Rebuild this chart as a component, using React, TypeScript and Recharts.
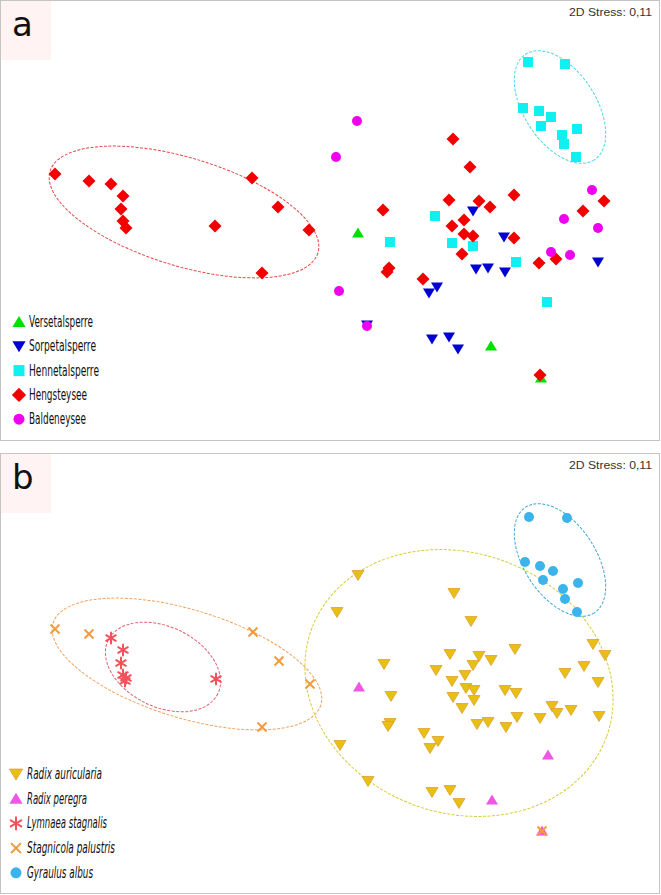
import { Scatter, ScatterChart, XAxis, YAxis } from "recharts";

type Pt = [number, number];
type Kind = "triUp" | "triDown" | "square" | "diamond" | "circle" | "star" | "cross";

// NMDS scores (panel a: sites by reservoir)
const versetalsperre: Pt[] = [[0.28, -0.13], [1.61, -1.26], [2.11, -1.58]];
const sorpetalsperre: Pt[] = [
  [1.43, 0.09], [1.74, -0.17], [2.68, -0.42], [1.46, -0.49], [1.58, -0.48], [1.75, -0.52],
  [1.07, -0.67], [0.99, -0.73], [0.37, -1.05], [1.02, -1.19], [1.19, -1.17], [1.28, -1.29],
];
const hennetalsperre: Pt[] = [
  [1.98, 1.58], [2.35, 1.56], [1.93, 1.12], [2.09, 1.09], [2.21, 1.03], [2.11, 0.94],
  [2.47, 0.91], [2.32, 0.85], [2.34, 0.76], [2.46, 0.63], [1.05, 0.04], [0.6, -0.22],
  [1.22, -0.23], [1.43, -0.26], [1.86, -0.42], [2.17, -0.82],
];
const hengsteysee: Pt[] = [
  [-2.75, 0.46], [-2.41, 0.39], [-2.19, 0.36], [-2.07, 0.24], [-2.09, 0.11], [-2.07, -0.01],
  [-2.04, -0.08], [-1.15, -0.06], [-0.78, 0.42], [-0.52, 0.13], [-0.21, -0.1], [-0.68, -0.53],
  [1.23, 0.81], [1.4, 0.53], [1.84, 0.25], [2.74, 0.19], [1.19, 0.2], [1.49, 0.19],
  [1.6, 0.13], [0.53, 0.1], [2.53, 0.09], [1.34, 0.0], [1.22, -0.06], [1.34, -0.14],
  [1.43, -0.16], [1.84, -0.18], [1.32, -0.34], [2.26, -0.39], [2.09, -0.43], [0.59, -0.48],
  [0.57, -0.52], [0.93, -0.59], [2.1, -1.55],
];
const baldeneysee: Pt[] = [
  [0.27, 0.99], [0.06, 0.63], [2.62, 0.3], [2.34, 0.01], [2.68, -0.08], [2.21, -0.32],
  [2.4, -0.35], [0.09, -0.71], [0.37, -1.06],
];

// panel b: sites by snail species
const radixAuricularia: Pt[] = [
  [0.28, 0.98], [1.24, 0.8], [0.07, 0.61], [1.41, 0.52], [2.63, 0.29], [1.85, 0.24],
  [2.75, 0.18], [1.2, 0.19], [1.49, 0.17], [1.61, 0.13], [1.43, 0.08], [0.54, 0.09],
  [2.54, 0.07], [1.06, 0.03], [2.35, 0.0], [1.35, -0.02], [1.22, -0.08], [2.68, -0.09],
  [1.36, -0.15], [1.44, -0.17], [1.75, -0.17], [1.86, -0.2], [0.61, -0.23], [1.23, -0.24],
  [1.44, -0.27], [1.32, -0.35], [2.22, -0.33], [2.41, -0.37], [2.27, -0.4], [2.69, -0.43],
  [1.87, -0.44], [2.1, -0.45], [0.6, -0.5], [0.58, -0.53], [1.58, -0.49], [1.47, -0.51],
  [1.76, -0.54], [0.94, -0.6], [1.08, -0.68], [1.0, -0.75], [0.1, -0.72], [0.38, -1.08],
  [1.02, -1.19], [1.2, -1.17], [1.29, -1.3],
];
const radixPeregra: Pt[] = [[0.29, -0.14], [2.18, -0.82], [1.62, -1.27], [2.12, -1.58]];
const lymnaeaStagnalis: Pt[] = [
  [-2.19, 0.35], [-2.07, 0.23], [-2.09, 0.1], [-2.07, -0.02], [-2.04, -0.05], [-2.05, -0.08],
  [-1.14, -0.06],
];
const stagnicolaPalustris: Pt[] = [
  [-2.75, 0.44], [-2.41, 0.39], [-0.77, 0.41], [-0.51, 0.12], [-0.2, -0.11], [-0.68, -0.54],
  [2.12, -1.58],
];
const gyraulusAlbus: Pt[] = [
  [1.99, 1.56], [2.37, 1.55], [1.95, 1.11], [2.1, 1.07], [2.23, 1.02], [2.13, 0.93],
  [2.48, 0.9], [2.33, 0.84], [2.35, 0.74], [2.47, 0.61],
];

// group ellipses: centre x, centre y, semi-axes, tilt (degrees, clockwise)
type Ell = { x: number; y: number; rx: number; ry: number; tilt: number; color: string };
const ellipsesA: Ell[] = [
  { x: -1.46, y: 0.08, rx: 1.4, ry: 0.54, tilt: 17, color: "#e84545" },
  { x: 2.3, y: 1.13, rx: 0.63, ry: 0.36, tilt: 57, color: "#4fd6e6" },
];
const ellipsesB: Ell[] = [
  { x: -1.43, y: 0.09, rx: 1.4, ry: 0.54, tilt: 17, color: "#f2a25c" },
  { x: -1.67, y: 0.06, rx: 0.61, ry: 0.4, tilt: 26, color: "#e4606e" },
  { x: 1.29, y: -0.1, rx: 1.57, ry: 1.3, tilt: 20, color: "#d6cc3a" },
  { x: 2.3, y: 1.13, rx: 0.63, ry: 0.36, tilt: 57, color: "#3fa8d8" },
];

type Series = { name: string; data: Pt[]; kind: Kind; color: string; edge?: string };

const seriesA: Series[] = [
  { name: "Versetalsperre", data: versetalsperre, kind: "triUp", color: "#00e000" },
  { name: "Sorpetalsperre", data: sorpetalsperre, kind: "triDown", color: "#0000d2" },
  { name: "Hennetalsperre", data: hennetalsperre, kind: "square", color: "#10f0f0" },
  { name: "Hengsteysee", data: hengsteysee, kind: "diamond", color: "#f20000" },
  { name: "Baldeneysee", data: baldeneysee, kind: "circle", color: "#f000f0" },
];
const seriesB: Series[] = [
  { name: "Radix auricularia", data: radixAuricularia, kind: "triDown", color: "#e8bf14", edge: "#dfa030" },
  { name: "Radix peregra", data: radixPeregra, kind: "triUp", color: "#f255e4" },
  { name: "Lymnaea stagnalis", data: lymnaeaStagnalis, kind: "star", color: "#f2525c" },
  { name: "Stagnicola palustris", data: stagnicolaPalustris, kind: "cross", color: "#f39a3e" },
  { name: "Gyraulus albus", data: gyraulusAlbus, kind: "circle", color: "#3ab4ea" },
];

const W = 660;
const H = 440;
const X_DOMAIN: [number, number] = [-3.3, 3.3];
const Y_DOMAIN: [number, number] = [-2.2, 2.2];
const PX = W / (X_DOMAIN[1] - X_DOMAIN[0]); // pixels per NMDS unit

function Marker({
  kind,
  cx,
  cy,
  color,
  edge,
  k = 1,
}: {
  kind: Kind;
  cx: number;
  cy: number;
  color: string;
  edge?: string;
  k?: number;
}) {
  const stroke = edge ?? "none";
  switch (kind) {
    case "triUp":
      return <path d={`M${cx - 6 * k},${cy + 4.5 * k}L${cx + 6 * k},${cy + 4.5 * k}L${cx},${cy - 5.5 * k}Z`} fill={color} stroke={stroke} strokeWidth={0.8} />;
    case "triDown":
      return <path d={`M${cx - 6 * k},${cy - 4.5 * k}L${cx + 6 * k},${cy - 4.5 * k}L${cx},${cy + 5.5 * k}Z`} fill={color} stroke={stroke} strokeWidth={0.8} />;
    case "square":
      return <rect x={cx - 5 * k} y={cy - 5 * k} width={10 * k} height={10 * k} fill={color} />;
    case "diamond":
      return <path d={`M${cx},${cy - 6.5 * k}L${cx + 6.5 * k},${cy}L${cx},${cy + 6.5 * k}L${cx - 6.5 * k},${cy}Z`} fill={color} />;
    case "circle":
      return <circle cx={cx} cy={cy} r={5 * k} fill={color} />;
    case "star":
      return (
        <g stroke={color} strokeWidth={2} strokeLinecap="round">
          <line x1={cx} y1={cy - 5.5 * k} x2={cx} y2={cy + 5.5 * k} />
          <line x1={cx - 4.8 * k} y1={cy - 2.8 * k} x2={cx + 4.8 * k} y2={cy + 2.8 * k} />
          <line x1={cx - 4.8 * k} y1={cy + 2.8 * k} x2={cx + 4.8 * k} y2={cy - 2.8 * k} />
        </g>
      );
    case "cross":
      return (
        <g stroke={color} strokeWidth={2}>
          <line x1={cx - 4.5 * k} y1={cy - 4.5 * k} x2={cx + 4.5 * k} y2={cy + 4.5 * k} />
          <line x1={cx - 4.5 * k} y1={cy + 4.5 * k} x2={cx + 4.5 * k} y2={cy - 4.5 * k} />
        </g>
      );
  }
}

function Panel({
  top,
  letter,
  series,
  ellipses,
  italic,
  legendY,
  legendGap,
  legendWidths,
}: {
  top: number;
  letter: string;
  series: Series[];
  ellipses: Ell[];
  italic?: boolean;
  legendY: number;
  legendGap: number;
  legendWidths: number[];
}) {
  return (
    <div style={{ position: "absolute", left: 0, top, width: W, height: H + 1 }}>
      <ScatterChart width={W} height={H} margin={{ top: 0, right: 0, bottom: 0, left: 0 }}>
        <XAxis type="number" dataKey="x" domain={X_DOMAIN} allowDataOverflow hide />
        <YAxis type="number" dataKey="y" domain={Y_DOMAIN} allowDataOverflow hide />
        <Scatter
          data={ellipses}
          isAnimationActive={false}
          shape={(p: any) => (
            <ellipse
              cx={p.cx}
              cy={p.cy}
              rx={p.payload.rx * PX}
              ry={p.payload.ry * PX}
              transform={`rotate(${p.payload.tilt} ${p.cx} ${p.cy})`}
              fill="none"
              stroke={p.payload.color}
              strokeWidth={1}
              strokeDasharray="3 1.5"
            />
          )}
        />
        {series.map((s) => (
          <Scatter
            key={s.name}
            name={s.name}
            data={s.data.map(([x, y]) => ({ x, y }))}
            isAnimationActive={false}
            shape={(p: any) => <Marker kind={s.kind} cx={p.cx} cy={p.cy} color={s.color} edge={s.edge} />}
          />
        ))}
      </ScatterChart>
      <svg
        width={W}
        height={H + 1}
        style={{ position: "absolute", left: 0, top: 0, pointerEvents: "none" }}
      >
        <rect x={0.5} y={0.5} width={W - 1} height={H} fill="none" stroke="#c4c4c4" />
        <rect x={1} y={1} width={50} height={59} fill="#fff3f3" />
        <text x={12} y={36} fontSize={34} fontFamily="DejaVu Sans, sans-serif" fill="#111">
          {letter}
        </text>
        <text
          x={569}
          y={16}
          fontSize={11}
          fontFamily="Liberation Sans, Arial, sans-serif"
          fill="#333"
          textLength={83}
          lengthAdjust="spacingAndGlyphs"
        >
          2D Stress: 0,11
        </text>
        {series.map((s, i) => {
          const y = legendY + i * legendGap;
          return (
            <g key={s.name}>
              <Marker kind={s.kind} cx={italic ? 16 : 19} cy={y} color={s.color} edge={s.edge} k={1.1} />
              <text
                x={italic ? 27 : 29}
                y={y + 5}
                fontSize={15}
                fontStyle={italic ? "italic" : "normal"}
                fontFamily="DejaVu Sans, sans-serif"
                fill="#111"
                textLength={legendWidths[i]}
                lengthAdjust="spacingAndGlyphs"
              >
                {s.name}
              </text>
            </g>
          );
        })}
      </svg>
    </div>
  );
}

export default function App() {
  return (
    <div style={{ position: "absolute", left: 0, top: 0, width: 661, height: 895, background: "#fff" }}>
      <Panel
        top={0}
        letter="a"
        series={seriesA}
        ellipses={ellipsesA}
        legendY={322}
        legendGap={24.3}
        legendWidths={[64, 67, 70, 58, 57]}
      />
      <Panel
        top={453}
        letter="b"
        series={seriesB}
        ellipses={ellipsesB}
        italic
        legendY={321}
        legendGap={24.7}
        legendWidths={[75, 60, 80, 88, 66]}
      />
    </div>
  );
}
